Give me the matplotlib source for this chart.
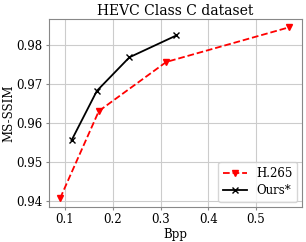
import matplotlib
matplotlib.use("Agg")
import matplotlib.pyplot as plt

plt.rcParams['font.family'] = 'DejaVu Serif'

h265_bpp = [0.090, 0.171, 0.312, 0.569]
h265_ssim = [0.9407, 0.9631, 0.9757, 0.9846]
ours_bpp = [0.114, 0.167, 0.235, 0.333]
ours_ssim = [0.9556, 0.9683, 0.9769, 0.9825]

fig, ax = plt.subplots(figsize=(3.06, 2.42), dpi=100)
ax.plot(h265_bpp, h265_ssim, 'r--v', lw=1.3, markersize=4.5, label="H.265")
ax.plot(ours_bpp, ours_ssim, 'k-x', lw=1.3, markersize=4.5, label="Ours*")
ax.set_title("HEVC Class C dataset", fontsize=10, pad=3)
ax.set_xlabel("Bpp", fontsize=8.5, labelpad=1)
ax.set_ylabel("MS-SSIM", fontsize=8.5, labelpad=1)
ax.set_xlim(0.0667, 0.596)
ax.set_ylim(0.9385, 0.9867)
ax.set_xticks([0.1, 0.2, 0.3, 0.4, 0.5])
ax.set_yticks([0.94, 0.95, 0.96, 0.97, 0.98])
ax.tick_params(labelsize=8.5, length=2.5, pad=2, color='#888888')
for s in ax.spines.values():
    s.set_color('#888888')
ax.grid(True, color='#cccccc')
ax.legend(loc='lower right', fontsize=8.5, labelspacing=0.4, borderaxespad=0.4)
fig.subplots_adjust(left=0.16, right=0.987, top=0.921, bottom=0.145)
fig.savefig("out.png")
